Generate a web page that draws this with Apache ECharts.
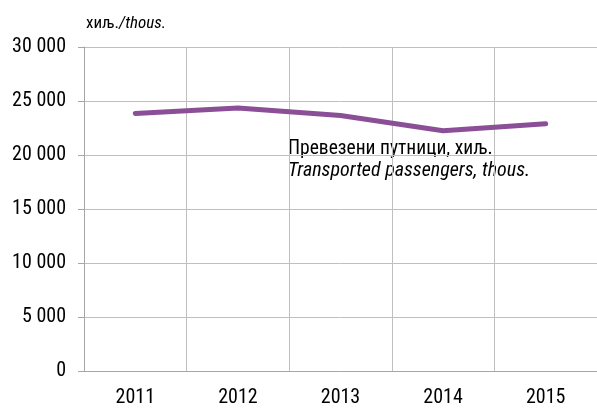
<!DOCTYPE html>
<html>
<head>
<meta charset="utf-8">
<script src="https://cdn.jsdelivr.net/npm/echarts@6/dist/echarts.min.js"></script>
<style>
  html, body { margin: 0; padding: 0; background: #fff; }
  #chart { width: 597px; height: 408px; }
</style>
</head>
<body>
<div id="chart"></div>
<script>
var years = ['2011', '2012', '2013', '2014', '2015'];
var passengers = [23850, 24350, 23650, 22250, 22900];
var yTicks = [0, 5000, 10000, 15000, 20000, 25000, 30000];

var narrow = '"Roboto Condensed", "Open Sans Condensed", "DejaVu Sans Condensed", sans-serif';

var chart = echarts.init(document.getElementById('chart'));
chart.setOption({
  animation: false,
  textStyle: { fontFamily: narrow },
  grid: { left: 84, right: -3, top: 47, bottom: 36 },
  xAxis: {
    type: 'category',
    data: years,
    boundaryGap: true,
    axisLine: { lineStyle: { color: '#a6a6a6', width: 1 } },
    axisTick: { show: false },
    splitLine: { show: true, lineStyle: { color: '#bfbfbf', width: 1 } },
    axisLabel: { color: '#000', fontSize: 20, margin: 17, fontFamily: narrow }
  },
  yAxis: {
    type: 'value',
    min: yTicks[0],
    max: yTicks[yTicks.length - 1],
    interval: yTicks[1] - yTicks[0],
    axisLine: { show: true, lineStyle: { color: '#a6a6a6', width: 1 } },
    axisTick: { show: true, length: 6, lineStyle: { color: '#a6a6a6' } },
    splitLine: { lineStyle: { color: '#bfbfbf', width: 1 } },
    axisLabel: {
      color: '#000', fontSize: 20, margin: 18, fontFamily: narrow,
      formatter: function (v) {
        return String(v).replace(/\B(?=(\d{3})+(?!\d))/g, ' ');
      }
    }
  },
  series: [{
    type: 'line',
    data: passengers,
    symbol: 'none',
    lineStyle: { color: '#8b4f97', width: 5, cap: 'round' }
  }],
  graphic: [
    {
      type: 'text', left: 86, top: 15,
      style: {
        text: '{a|хиљ.}{b|/thous.}',
        rich: {
          a: { fontSize: 17, fill: '#000', fontFamily: narrow },
          b: { fontSize: 17, fill: '#000', fontStyle: 'italic', fontFamily: narrow }
        }
      }
    },
    {
      type: 'text', left: 288, top: 139,
      style: {
        text: 'Превезени путници, хиљ.',
        fontSize: 19.5, fill: '#000', fontFamily: narrow
      }
    },
    {
      type: 'text', left: 288, top: 161,
      style: {
        text: 'Transported passengers, thous.',
        fontSize: 20, fontStyle: 'italic', fill: '#000', fontFamily: narrow
      }
    }
  ]
});
</script>
</body>
</html>
